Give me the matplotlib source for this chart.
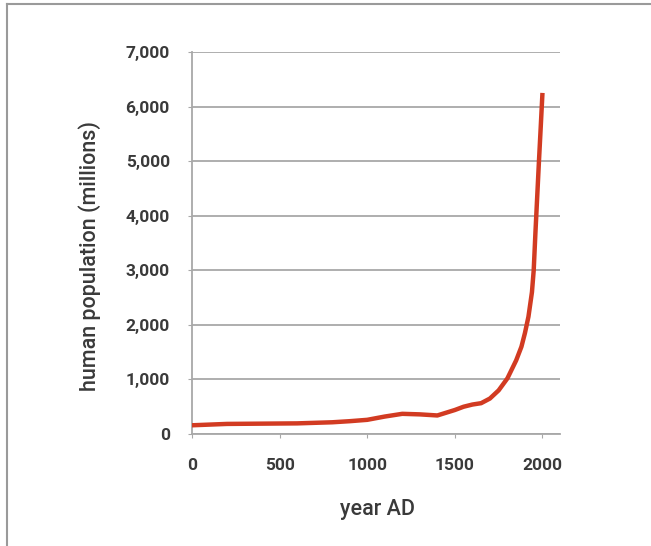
import matplotlib
matplotlib.use('agg')
from matplotlib import pyplot as plt
from matplotlib.ticker import FuncFormatter
from matplotlib.lines import Line2D

# data
years = [0, 200, 400, 600, 800, 900, 1000, 1100, 1200, 1300, 1400, 1500, 1550, 1600, 1650,
         1700, 1750, 1800, 1850, 1880, 1900, 1920, 1940, 1950, 1960, 1970, 1980, 1990, 2000]
population = [160, 185, 190, 195, 215, 235, 260, 320, 370, 360, 340, 440, 500, 540, 565,
              650, 800, 1020, 1350, 1600, 1850, 2150, 2600, 3000, 3700, 4350, 5000, 5620, 6250]

y_ticks = [0, 1000, 2000, 3000, 4000, 5000, 6000, 7000]
x_ticks = [0, 500, 1000, 1500, 2000]

font = ['Roboto', 'DejaVu Sans']
text_color = '#3a3a3a'
grid_color = '#a8a8a8'

fig = plt.figure(figsize=(6.51, 5.46), dpi=100)
fig.patch.set_facecolor('white')
ax = fig.add_axes([0.2949, 0.2051, 0.5653, 0.6997])

# light frame around the picture (top and left edges)
fig.add_artist(Line2D([7 / 651, 7 / 651], [0, 1 - 4 / 546], transform=fig.transFigure,
                      color='#9a9a9a', lw=1.5))
fig.add_artist(Line2D([7 / 651, 1], [1 - 4 / 546, 1 - 4 / 546], transform=fig.transFigure,
                      color='#9a9a9a', lw=1.5))

ax.plot(years, population, color='#d23b22', lw=3.2, solid_capstyle='butt',
        solid_joinstyle='round', zorder=3)

ax.set_xlim(0, 2100)
ax.set_ylim(0, 7000)
ax.set_yticks(y_ticks)
ax.set_xticks(x_ticks)
ax.yaxis.set_major_formatter(FuncFormatter(lambda v, p: f"{int(v):,}"))

ax.grid(True, axis='y', color=grid_color, lw=1.3)
ax.set_axisbelow(True)

for side in ['top', 'right']:
    ax.spines[side].set_visible(False)
ax.spines['left'].set_color(grid_color)
ax.spines['bottom'].set_color(grid_color)
ax.spines['left'].set_linewidth(1.3)
ax.spines['bottom'].set_linewidth(1.3)

ax.tick_params(axis='y', length=3, color=grid_color, pad=13)
ax.tick_params(axis='x', length=3, color=grid_color, pad=14, direction='out')
for lab in ax.get_xticklabels() + ax.get_yticklabels():
    lab.set_fontfamily(font)
    lab.set_fontsize(12.5)
    lab.set_fontweight('bold')
    lab.set_color(text_color)

fig.text(90 / 651, 1 - 256 / 546, 'human population (millions)', rotation=90,
         ha='center', va='center', family=font, fontsize=15.5, fontweight='medium',
         color=text_color)
fig.text(377 / 651, 1 - 510 / 546, 'year AD', ha='center', va='center',
         family=font, fontsize=15.5, fontweight='medium', color=text_color)

fig.savefig('out.png', dpi=100, facecolor='white')
plt.close(fig)
